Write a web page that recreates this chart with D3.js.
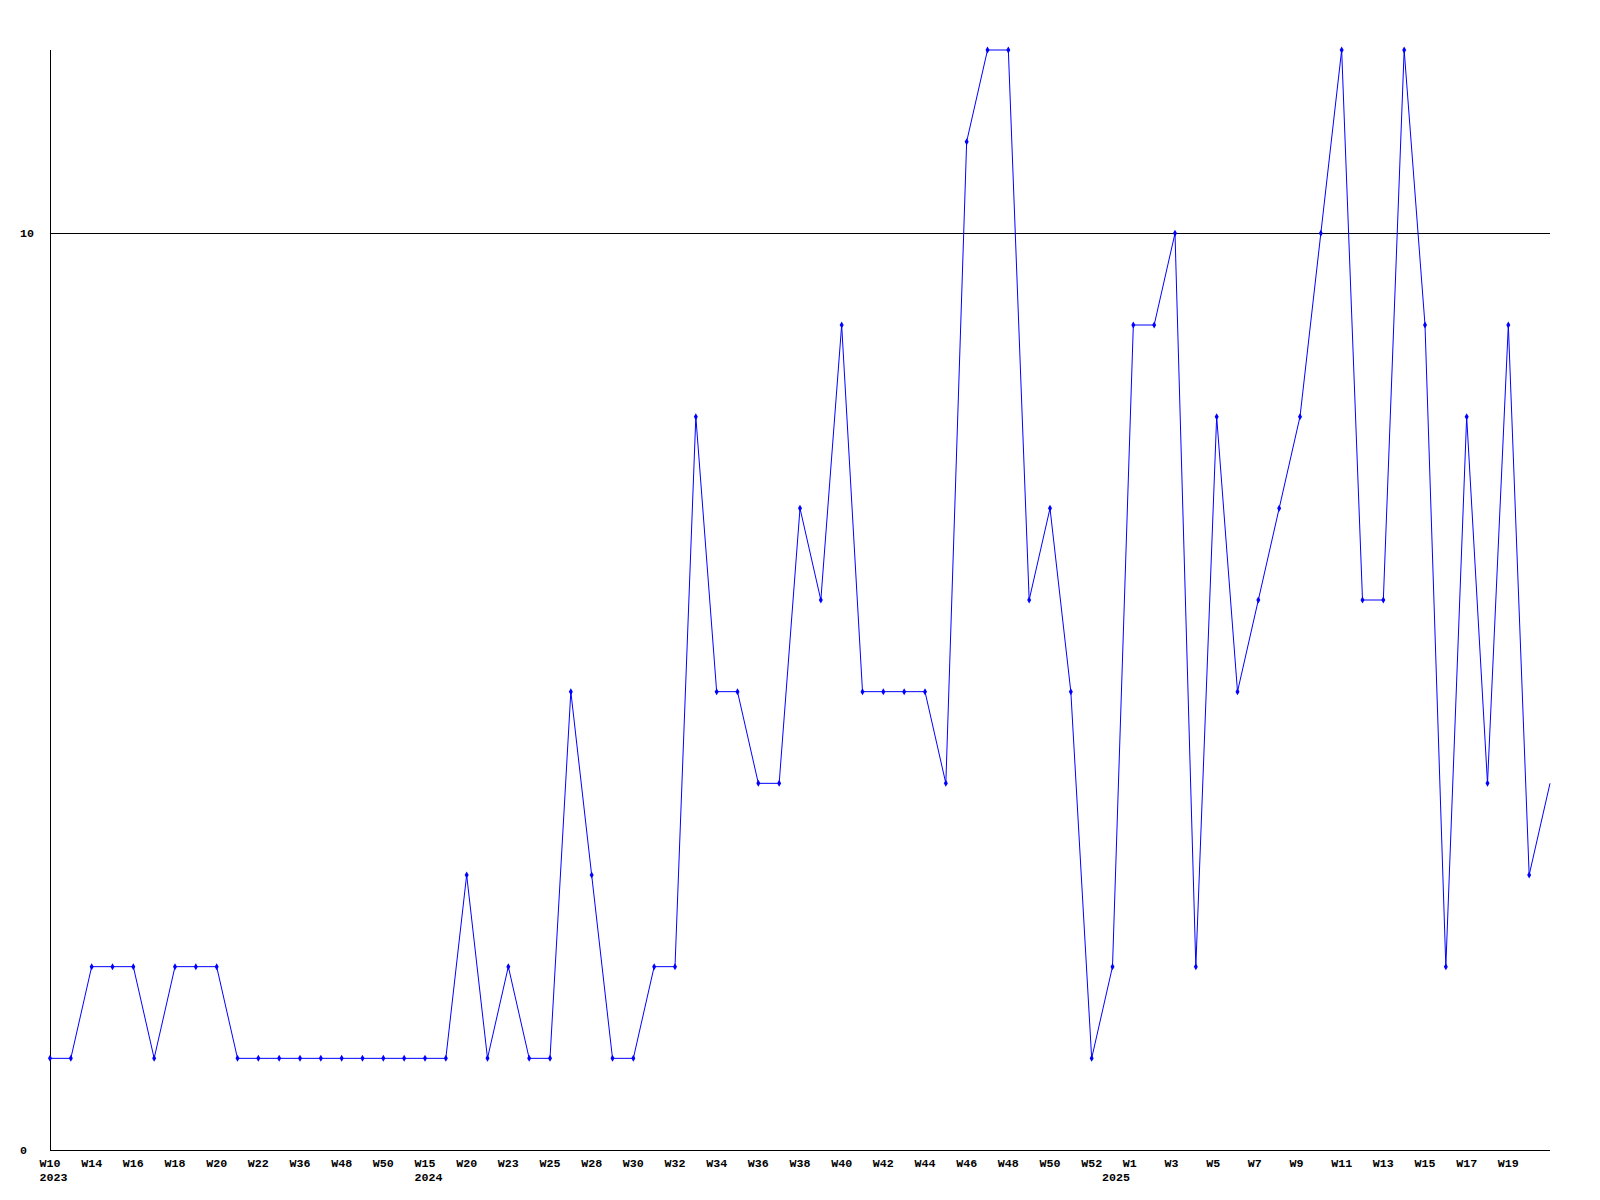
<!DOCTYPE html>
<html>
<head>
<meta charset="utf-8">
<script src="https://cdn.jsdelivr.net/npm/d3@7"></script>
<style>
html,body{margin:0;padding:0;background:#fff;}
svg{display:block;}
text{font-family:"Liberation Mono","DejaVu Sans Mono",monospace;font-weight:bold;font-size:11.67px;fill:#000;}
</style>
</head>
<body>
<svg id="chart" width="1600" height="1200"></svg>
<script>
// one value per week (73 points)
const values = [1,1,2,2,2,1,2,2,2,1,1,1,1,1,1,1,1,1,1,1,3,1,2,1,1,5,3,1,1,2,2,8,5,5,4,4,7,6,9,5,5,5,5,4,11,12,12,6,7,5,1,2,9,9,10,2,8,5,6,7,8,10,12,6,6,12,9,2,8,4,9,3,4];
// week tick labels, shown on every other point
const weekLabels = ["W10","W14","W16","W18","W20","W22","W36","W48","W50","W15","W20","W23","W25","W28","W30","W32","W34","W36","W38","W40","W42","W44","W46","W48","W50","W52","W1","W3","W5","W7","W9","W11","W13","W15","W17","W19"];
// year labels and the point where each year starts
const yearLabels = ["2023","2024","2025"];
const yearStartIndex = [0,18,51];
const yTicks = [0,10];
const refLine = 10;

const svg = d3.select("#chart");
const x = d3.scaleLinear().domain([0, values.length-1]).range([50, 1550]);
const y = d3.scaleLinear().domain([0, 12]).range([1150, 50]);

// reference line
svg.append("line").attr("x1", x(0)).attr("x2", x(values.length-1))
  .attr("y1", Math.round(y(refLine))+0.5).attr("y2", Math.round(y(refLine))+0.5)
  .attr("stroke","#000").attr("stroke-width",1);

// axes
svg.append("line").attr("x1", 50.5).attr("x2", 50.5).attr("y1", y(12)).attr("y2", y(0)+0.5)
  .attr("stroke","#000").attr("stroke-width",1);
svg.append("line").attr("x1", 50).attr("x2", x(values.length-1)).attr("y1", y(0)+0.5).attr("y2", y(0)+0.5)
  .attr("stroke","#000").attr("stroke-width",1);

// y labels
svg.selectAll(".ylab").data(yTicks).enter().append("text")
  .attr("x", 20).attr("y", d => y(d)).attr("dy","0.35em").text(d => d);

// x labels every other point
svg.selectAll(".xlab").data(weekLabels).enter().append("text")
  .attr("x", (d,k) => x(k*2) - 10.5).attr("y", 1167).text(d => d);

// year labels
svg.selectAll(".yearlab").data(yearLabels).enter().append("text")
  .attr("x", (d,k) => x(yearStartIndex[k]) - 10.5).attr("y", 1181).text(d => d);

// line
const line = d3.line().x((d,i) => x(i)).y(d => y(d));
svg.append("path").datum(values).attr("d", line)
  .attr("fill","none").attr("stroke","#0000ff").attr("stroke-width",1);

// markers (the last, still-open week has none)
svg.selectAll(".pt").data(values.slice(0, values.length-1)).enter().append("path")
  .attr("transform", (d,i) => `translate(${x(i)},${y(d)})`)
  .attr("d", d3.symbol().type(d3.symbolDiamond).size(14))
  .attr("fill","#0000ff");
</script>
</body>
</html>
